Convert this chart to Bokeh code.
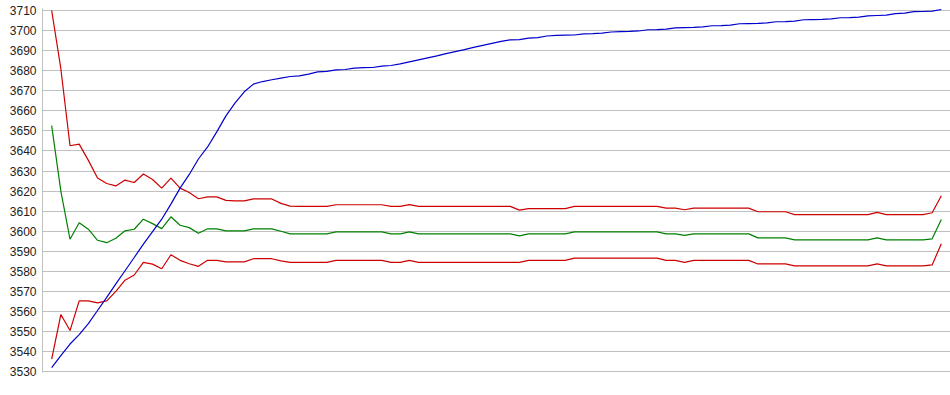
from bokeh.plotting import figure
from bokeh.models import Range1d, FixedTicker
from bokeh.embed import file_html
from bokeh.resources import INLINE

# x positions (sample index)
idx = list(range(98))

# y-axis tick labels
y_ticks = [3530, 3540, 3550, 3560, 3570, 3580, 3590, 3600, 3610, 3620,
           3630, 3640, 3650, 3660, 3670, 3680, 3690, 3700, 3710]

# blue rising series
price = [3532, 3538, 3543.8, 3548.5, 3554, 3560.5, 3567, 3573.8, 3580.3, 3586.9,
         3593.6, 3599.8, 3606, 3613.5, 3621.5, 3628.3, 3636, 3642, 3649.5, 3657.5,
         3664, 3669.5, 3673.3, 3674.6, 3675.5, 3676.3, 3677.1, 3677.4, 3678.3, 3679.4,
         3679.7, 3680.4, 3680.6, 3681.3, 3681.5, 3681.6, 3682.3, 3682.6, 3683.4, 3684.4,
         3685.4, 3686.4, 3687.4, 3688.5, 3689.5, 3690.5, 3691.6, 3692.6, 3693.6, 3694.6,
         3695.4, 3695.5, 3696.2, 3696.5, 3697.3, 3697.6, 3697.7, 3697.8, 3698.4, 3698.5,
         3698.7, 3699.3, 3699.5, 3699.6, 3699.8, 3700.4, 3700.5, 3700.7, 3701.3, 3701.5,
         3701.6, 3701.8, 3702.4, 3702.5, 3702.7, 3703.4, 3703.5, 3703.6, 3703.8, 3704.4,
         3704.5, 3704.7, 3705.4, 3705.5, 3705.6, 3705.8, 3706.4, 3706.5, 3706.7, 3707.3,
         3707.5, 3707.7, 3708.4, 3708.7, 3709.4, 3709.5, 3709.7, 3710.5]

# upper red band
upper = [3710, 3681, 3642.6, 3643.4, 3635.3, 3626.5, 3623.8, 3622.6, 3625.5, 3624.3,
         3628.5, 3625.8, 3621.5, 3626.5, 3621.5, 3619.3, 3616.2, 3617.1, 3617.1, 3615.4,
         3615.1, 3615.1, 3616.1, 3616.1, 3616.1, 3613.9, 3612.5, 3612.4, 3612.4, 3612.4,
         3612.4, 3613.2, 3613.2, 3613.2, 3613.2, 3613.2, 3613.2, 3612.4, 3612.4, 3613.3,
         3612.4, 3612.4, 3612.4, 3612.4, 3612.4, 3612.4, 3612.4, 3612.4, 3612.4, 3612.4,
         3612.4, 3610.5, 3611.3, 3611.3, 3611.3, 3611.3, 3611.3, 3612.4, 3612.4, 3612.4,
         3612.4, 3612.4, 3612.4, 3612.4, 3612.4, 3612.4, 3612.4, 3611.5, 3611.5, 3610.7,
         3611.5, 3611.5, 3611.5, 3611.5, 3611.5, 3611.5, 3611.5, 3609.7, 3609.7, 3609.7,
         3609.7, 3608.3, 3608.3, 3608.3, 3608.3, 3608.3, 3608.3, 3608.3, 3608.3, 3608.3,
         3609.4, 3608.3, 3608.3, 3608.3, 3608.3, 3608.3, 3609.2, 3617.7]

# green middle band
middle = [3652.6, 3620, 3596, 3604.2, 3601, 3595.5, 3594.3, 3596.5, 3600.2, 3601,
          3606, 3603.8, 3601.3, 3607.2, 3603, 3601.8, 3599, 3601.2, 3601.2, 3600.2,
          3600.2, 3600.2, 3601.2, 3601.2, 3601.2, 3600, 3598.7, 3598.7, 3598.7, 3598.7,
          3598.7, 3599.7, 3599.7, 3599.7, 3599.7, 3599.7, 3599.7, 3598.7, 3598.7, 3599.7,
          3598.7, 3598.7, 3598.7, 3598.7, 3598.7, 3598.7, 3598.7, 3598.7, 3598.7, 3598.7,
          3598.7, 3597.7, 3598.7, 3598.7, 3598.7, 3598.7, 3598.7, 3599.7, 3599.7, 3599.7,
          3599.7, 3599.7, 3599.7, 3599.7, 3599.7, 3599.7, 3599.7, 3598.7, 3598.7, 3597.9,
          3598.7, 3598.7, 3598.7, 3598.7, 3598.7, 3598.7, 3598.7, 3596.7, 3596.7, 3596.7,
          3596.7, 3595.7, 3595.7, 3595.7, 3595.7, 3595.7, 3595.7, 3595.7, 3595.7, 3595.7,
          3596.7, 3595.7, 3595.7, 3595.7, 3595.7, 3595.7, 3596.2, 3605.8]

# lower red band
lower = [3536.3, 3558.5, 3550.5, 3565.3, 3565.3, 3564.3, 3565.3, 3570, 3575.6, 3578.2,
         3584.5, 3583.6, 3581.3, 3588.3, 3585.5, 3583.8, 3582.5, 3585.5, 3585.5, 3584.7,
         3584.7, 3584.7, 3586.3, 3586.3, 3586.3, 3585.2, 3584.5, 3584.5, 3584.5, 3584.5,
         3584.5, 3585.5, 3585.5, 3585.5, 3585.5, 3585.5, 3585.5, 3584.5, 3584.5, 3585.5,
         3584.5, 3584.5, 3584.5, 3584.5, 3584.5, 3584.5, 3584.5, 3584.5, 3584.5, 3584.5,
         3584.5, 3584.5, 3585.5, 3585.5, 3585.5, 3585.5, 3585.5, 3586.6, 3586.6, 3586.6,
         3586.6, 3586.6, 3586.6, 3586.6, 3586.6, 3586.6, 3586.6, 3585.5, 3585.5, 3584.5,
         3585.5, 3585.5, 3585.5, 3585.5, 3585.5, 3585.5, 3585.5, 3583.7, 3583.7, 3583.7,
         3583.7, 3582.7, 3582.7, 3582.7, 3582.7, 3582.7, 3582.7, 3582.7, 3582.7, 3582.7,
         3583.7, 3582.7, 3582.7, 3582.7, 3582.7, 3582.7, 3583.2, 3593.8]

p = figure(frame_width=908, frame_height=364,
           x_range=Range1d(-1, 98), y_range=Range1d(3529.6, 3711),
           output_backend="svg", toolbar_location=None,
           min_border_left=42, min_border_right=0, min_border_top=8, min_border_bottom=20)

p.background_fill_color = "white"
p.border_fill_color = "white"
p.outline_line_color = None

p.xaxis.visible = False
p.xgrid.visible = False
p.ygrid.grid_line_color = "#c0c0c0"
p.ygrid.grid_line_width = 1

ax = p.yaxis[0]
ax.ticker = FixedTicker(ticks=y_ticks)
ax.axis_line_color = "#c0c0c0"
ax.major_tick_line_color = None
ax.minor_tick_line_color = None
ax.major_tick_out = 0
ax.major_tick_in = 0
ax.major_label_standoff = 6
ax.major_label_text_font = "Liberation Sans"
ax.major_label_text_font_size = "12px"
ax.major_label_text_color = "#222222"

p.line(idx, upper, line_color="#cc0000", line_width=1.2)
p.line(idx, middle, line_color="#008000", line_width=1.2)
p.line(idx, lower, line_color="#cc0000", line_width=1.2)
p.line(idx, price, line_color="#0000cc", line_width=1.2)

open("out.html", "w").write(file_html(p, INLINE))
